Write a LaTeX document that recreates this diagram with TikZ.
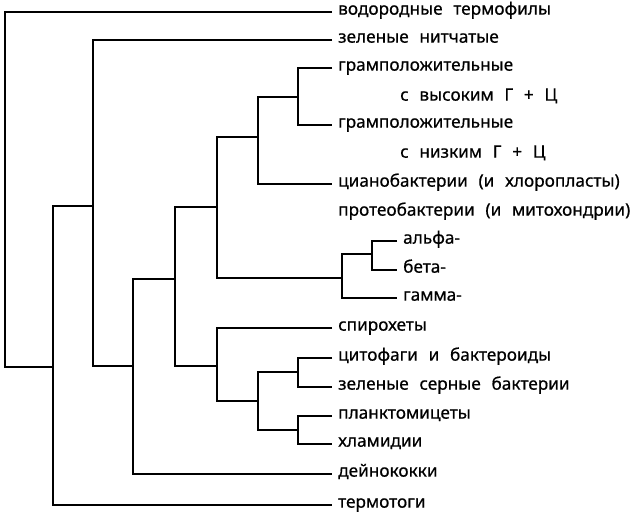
\documentclass[tikz,border=0pt]{standalone}
\usepackage{fontspec}
\setmainfont[WordSpace=2.4,FakeBold=0.6]{Noto Sans}
\begin{document}
\begin{tikzpicture}[x=1pt,y=-1pt,
  br/.style={line width=1.3pt,line join=miter},
  leaf/.style={anchor=west,inner xsep=6pt,inner ysep=0pt,text height=1ex,text depth=0pt,font=\fontsize{17.2}{20}\selectfont},
  lbl/.style={anchor=west,inner sep=0pt,text height=1ex,text depth=0pt,font=\fontsize{17.2}{20}\selectfont}]
\useasboundingbox (0,0) rectangle (630,518);
% leaves
\node[leaf] (vod) at (332,12) {водородные термофилы};
\node[leaf] (zel) at (332,40) {зеленые нитчатые};
\node[leaf] (gp1) at (332,68) {грамположительные};
\node[lbl] (gp1b) at (400,98) {с высоким Г + Ц};
\node[leaf] (gp2) at (332,125) {грамположительные};
\node[lbl] (gp2b) at (400,155) {с низким Г + Ц};
\node[leaf] (cyan) at (332,184) {цианобактерии (и хлоропласты)};
\node[lbl] (prot) at (338,213) {протеобактерии (и митохондрии)};
\node[leaf] (alf) at (397,241) {альфа-};
\node[leaf] (bet) at (397,270) {бета-};
\node[leaf] (gam) at (397,298) {гамма-};
\node[leaf] (spi) at (332,328) {спирохеты};
\node[leaf] (cyt) at (332,358) {цитофаги и бактероиды};
\node[leaf] (gsb) at (332,387) {зеленые серные бактерии};
\node[leaf] (pla) at (332,416) {планктомицеты};
\node[leaf] (chl) at (332,444) {хламидии};
\node[leaf] (dei) at (332,474) {дейнококки};
\node[leaf] (ter) at (332,505) {термотоги};
% internal junctions
\coordinate (R) at (5,367);
\coordinate (A) at (53,367);
\coordinate (B) at (93,206);
\coordinate (C) at (133,366);
\coordinate (D) at (175,279);
\coordinate (E) at (217,207);
\coordinate (F) at (217,366);
\coordinate (G) at (258,137);
\coordinate (H) at (298,97);
\coordinate (P) at (342,278);
\coordinate (Q) at (372,254);
\coordinate (I) at (258,401);
\coordinate (J) at (298,372);
\coordinate (K) at (298,430);
% branches
\draw[br] (vod.west) -| (R) -- (A);
\draw[br] (B) -| (A) |- (ter.west);
\draw[br] (zel.west) -| (B) |- (C);
\draw[br] (D) -| (C) |- (dei.west);
\draw[br] (E) -| (D) |- (F);
\draw[br] (G) -| (E) |- (P);
\draw[br] (H) -| (G) |- (cyan.west);
\draw[br] (gp1.west) -| (H) |- (gp2.west);
\draw[br] (Q) -| (P) |- (gam.west);
\draw[br] (alf.west) -| (Q) |- (bet.west);
\draw[br] (spi.west) -| (F) |- (I);
\draw[br] (J) -| (I) |- (K);
\draw[br] (cyt.west) -| (J) |- (gsb.west);
\draw[br] (pla.west) -| (K) |- (chl.west);
\end{tikzpicture}
\end{document}
